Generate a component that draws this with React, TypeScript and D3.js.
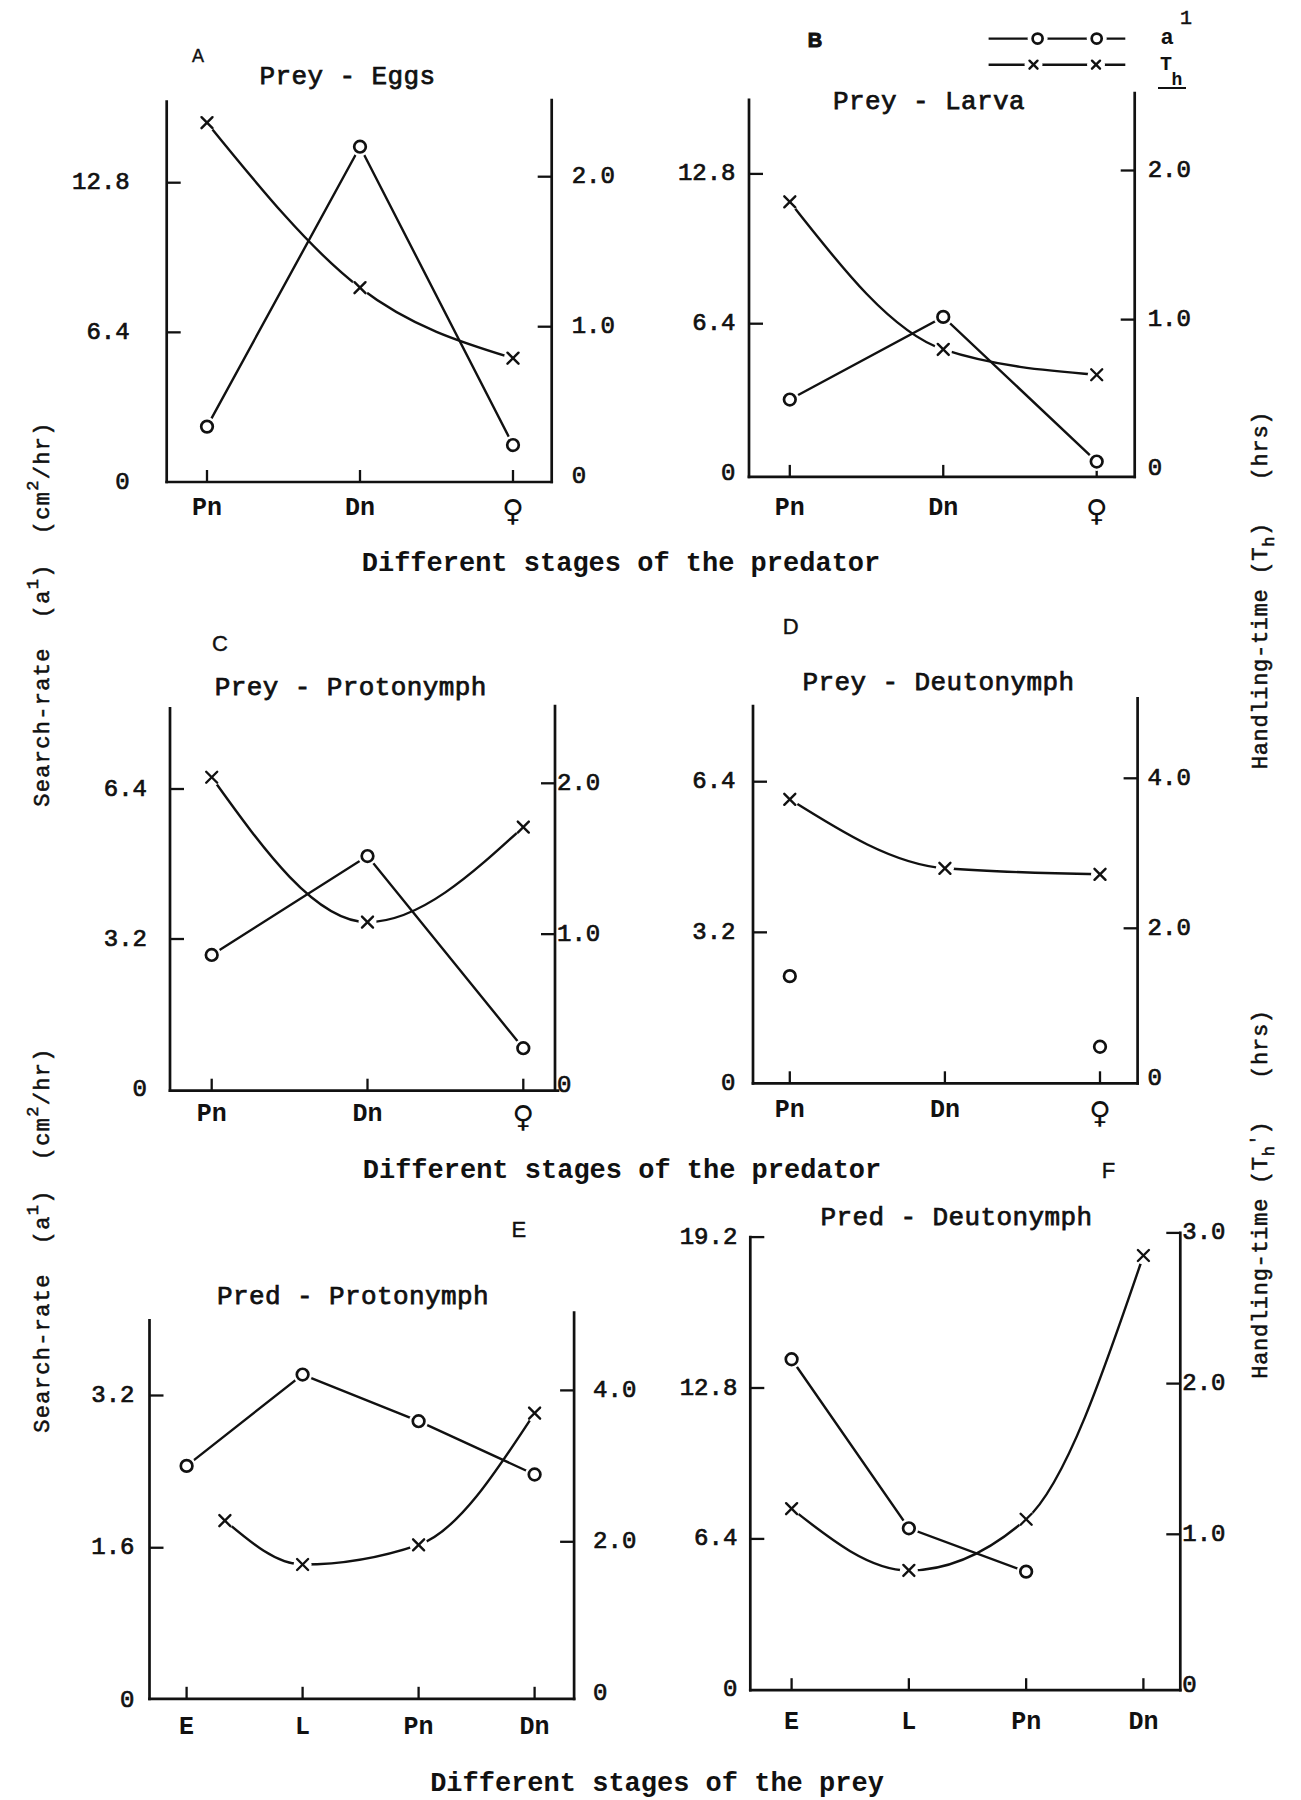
import React from 'react';
import * as d3 from 'd3';

// ---------- data ----------
const predatorStages = ['Pn', 'Dn', '\u2640'];
const preyStages = ['E', 'L', 'Pn', 'Dn'];

// search rate a' (cm2/hr) on the left axis, handling time Th (hrs) on the right axis
const searchA = [2.37, 14.34, 1.58];
const handlingA = [2.36, 1.26, 0.79];
const searchB = [3.16, 6.69, 0.51];
const handlingB = [1.79, 0.8, 0.63];
const searchC = [2.86, 4.97, 0.87];
const handlingC = [2.04, 1.08, 1.71];
const searchD = [2.27, null, 0.77];
const handlingD = [3.72, 2.8, 2.72];
const searchE = [2.46, 3.42, 2.93, 2.37];
const handlingE = [2.28, 1.7, 1.96, 3.7];
const handlingEStagePos = [0.33, 1, 2, 3];
const searchF = [14.02, 6.85, 5.01, null];
const handlingF = [1.17, 0.76, 1.1, 2.85];

const leftTicksA = [6.4, 12.8];
const rightTicksA = [1.0, 2.0];
const leftTicksB = [6.4, 12.8];
const rightTicksB = [1.0, 2.0];
const leftTicksC = [3.2, 6.4];
const rightTicksC = [1.0, 2.0];
const leftTicksD = [3.2, 6.4];
const rightTicksD = [2.0, 4.0];
const leftTicksE = [1.6, 3.2];
const rightTicksE = [2.0, 4.0];
const leftTicksF = [6.4, 12.8, 19.2];
const rightTicksF = [1.0, 2.0, 3.0];

const titles = ['Prey - Eggs', 'Prey - Larva', 'Prey - Protonymph', 'Prey - Deutonymph', 'Pred - Protonymph', 'Pred - Deutonymph'];
const letters = ['A', 'B', 'C', 'D', 'E', 'F'];

// ---------- layout ----------
const W = 1301;
const H = 1800;
const MONO = "'Liberation Mono', 'Courier New', monospace";
const SANS = "'Liberation Sans', Arial, sans-serif";
const INK = '#111';
const fmt = d3.format('.1f');

type PanelCfg = {
  letter: string; letterPos: [number, number]; letterSize: number; letterBold: boolean;
  title: string; titlePos: [number, number];
  cats: string[]; catX: [number, number]; catLabelY: number;
  axL: number; axR: number; axB: number; topL: number; topR: number; bottomEnd: number;
  leftTicks: number[]; leftZero: number; leftTop: number;
  rightTicks: number[]; rightZero: number; rightTop: number;
  leftGap: number; rightGap: number;
  search: (number | null)[]; handling: (number | null)[]; handlingPos?: number[];
  searchLine: boolean;
};

const panels: PanelCfg[] = [
  {
    letter: letters[0], letterPos: [198, 56], letterSize: 18, letterBold: false,
    title: titles[0], titlePos: [347.5, 77],
    cats: predatorStages, catX: [207, 513], catLabelY: 508,
    axL: 166.7, axR: 551.7, axB: 482, topL: 101.7, topR: 100, bottomEnd: 551.7,
    leftTicks: leftTicksA, leftZero: 482, leftTop: 182.7,
    rightTicks: rightTicksA, rightZero: 476.7, rightTop: 176.7,
    leftGap: 37, rightGap: 20,
    search: searchA, handling: handlingA, searchLine: true,
  },
  {
    letter: letters[1], letterPos: [815, 40], letterSize: 20, letterBold: true,
    title: titles[1], titlePos: [929, 102],
    cats: predatorStages, catX: [789.8, 1096.7], catLabelY: 508,
    axL: 749, axR: 1134.7, axB: 476.9, topL: 99.9, topR: 93, bottomEnd: 1134.7,
    leftTicks: leftTicksB, leftZero: 473.5, leftTop: 173.9,
    rightTicks: rightTicksB, rightZero: 468.7, rightTop: 170.5,
    leftGap: 13.5, rightGap: 13,
    search: searchB, handling: handlingB, searchLine: true,
  },
  {
    letter: letters[2], letterPos: [220, 643], letterSize: 22, letterBold: false,
    title: titles[2], titlePos: [350.8, 688],
    cats: predatorStages, catX: [211.7, 523.3], catLabelY: 1114,
    axL: 170, axR: 555, axB: 1090.7, topL: 708.3, topR: 706, bottomEnd: 558,
    leftTicks: leftTicksC, leftZero: 1089, leftTop: 789,
    rightTicks: rightTicksC, rightZero: 1085, rightTop: 783.3,
    leftGap: 23, rightGap: 2,
    search: searchC, handling: handlingC, searchLine: true,
  },
  {
    letter: letters[3], letterPos: [790.6, 626.7], letterSize: 22, letterBold: false,
    title: titles[3], titlePos: [938.6, 683.3],
    cats: predatorStages, catX: [789.8, 1100], catLabelY: 1110,
    axL: 753, axR: 1137.6, axB: 1083.3, topL: 706, topR: 698.3, bottomEnd: 1137.6,
    leftTicks: leftTicksD, leftZero: 1083, leftTop: 781.7,
    rightTicks: rightTicksD, rightZero: 1078.3, rightTop: 778.3,
    leftGap: 17.5, rightGap: 10,
    search: searchD, handling: handlingD, searchLine: false,
  },
  {
    letter: letters[4], letterPos: [518.8, 1229.4], letterSize: 22, letterBold: false,
    title: titles[4], titlePos: [352.9, 1296.6],
    cats: preyStages, catX: [186.6, 534.6], catLabelY: 1727.6,
    axL: 149.5, axR: 574.1, axB: 1698.8, topL: 1320.4, topR: 1312.5, bottomEnd: 574.1,
    leftTicks: leftTicksE, leftZero: 1700, leftTop: 1395.5,
    rightTicks: rightTicksE, rightZero: 1693.2, rightTop: 1390.4,
    leftGap: 15, rightGap: 19,
    search: searchE, handling: handlingE, handlingPos: handlingEStagePos, searchLine: true,
  },
  {
    letter: letters[5], letterPos: [1108.6, 1170.7], letterSize: 22, letterBold: false,
    title: titles[5], titlePos: [956.6, 1218.4],
    cats: preyStages, catX: [791.6, 1143.4], catLabelY: 1722,
    axL: 750.3, axR: 1180.3, axB: 1690.2, topL: 1237.1, topR: 1232.9, bottomEnd: 1180.3,
    leftTicks: leftTicksF, leftZero: 1689.8, leftTop: 1237.1,
    rightTicks: rightTicksF, rightZero: 1685, rightTop: 1232.9,
    leftGap: 13, rightGap: 2,
    search: searchF, handling: handlingF, searchLine: true,
  },
];

const SW = 2.4;

function Cross({ x, y, s = 5.5 }: { x: number; y: number; s?: number }) {
  return (
    <g stroke={INK} strokeWidth={SW} strokeLinecap="round">
      <line x1={x - s} y1={y - s} x2={x + s} y2={y + s} />
      <line x1={x - s} y1={y + s} x2={x + s} y2={y - s} />
    </g>
  );
}

function Ring({ x, y, r = 5.8 }: { x: number; y: number; r?: number }) {
  return <circle cx={x} cy={y} r={r} fill="#fff" stroke={INK} strokeWidth={SW + 0.3} />;
}

function Panel({ p }: { p: PanelCfg }) {
  const x = d3.scaleLinear().domain([0, p.cats.length - 1]).range(p.catX);
  const yL = d3.scaleLinear().domain([0, p.leftTicks[p.leftTicks.length - 1]]).range([p.leftZero, p.leftTop]);
  const yR = d3.scaleLinear().domain([0, p.rightTicks[p.rightTicks.length - 1]]).range([p.rightZero, p.rightTop]);

  const sPts: [number, number][] = [];
  p.search.forEach((v, i) => { if (v != null) sPts.push([x(i), yL(v)]); });
  const hPts: [number, number][] = [];
  p.handling.forEach((v, i) => {
    if (v != null) hPts.push([x(p.handlingPos ? p.handlingPos[i] : i), yR(v)]);
  });

  const straight = d3.line<[number, number]>().curve(d3.curveLinear);
  const smooth = d3.line<[number, number]>().curve(d3.curveMonotoneX);

  return (
    <g>
      {/* frame */}
      <g stroke={INK} strokeWidth={2.7} fill="none" strokeLinecap="square">
        <line x1={p.axL} y1={p.topL} x2={p.axL} y2={p.axB} />
        <line x1={p.axR} y1={p.topR} x2={p.axR} y2={p.axB} />
        <line x1={p.axL} y1={p.axB} x2={p.bottomEnd} y2={p.axB} />
      </g>
      {/* ticks */}
      <g stroke={INK} strokeWidth={2.3}>
        {p.leftTicks.map((t) => (
          <line key={'lt' + t} x1={p.axL} x2={p.axL + 14} y1={yL(t)} y2={yL(t)} />
        ))}
        {p.rightTicks.map((t) => (
          <line key={'rt' + t} x1={p.axR - 14} x2={p.axR} y1={yR(t)} y2={yR(t)} />
        ))}
        {p.cats.map((c, i) => (
          <line key={'ct' + i} x1={x(i)} x2={x(i)} y1={p.axB} y2={p.axB - 12} />
        ))}
      </g>
      {/* tick labels */}
      <g fontFamily={MONO} fontSize={24} fill={INK} stroke={INK} strokeWidth={0.7}>
        {[0, ...p.leftTicks].map((t) => (
          <text key={'ll' + t} x={p.axL - p.leftGap} y={yL(t)} textAnchor="end" dominantBaseline="central">
            {t === 0 ? '0' : fmt(t)}
          </text>
        ))}
        {[0, ...p.rightTicks].map((t) => (
          <text key={'rl' + t} x={p.axR + p.rightGap} y={yR(t)} textAnchor="start" dominantBaseline="central">
            {t === 0 ? '0' : fmt(t)}
          </text>
        ))}
      </g>
      {/* category labels */}
      <g fontFamily={MONO} fontSize={25} fontWeight="bold" fill={INK}>
        {p.cats.map((c, i) => (
          c === '\u2640' ? (
            <text key={'cl' + i} x={x(i)} y={p.catLabelY + 2} textAnchor="middle" dominantBaseline="central"
              fontFamily="'DejaVu Sans', sans-serif" fontSize={30} fontWeight="bold">{c}</text>
          ) : (
            <text key={'cl' + i} x={x(i)} y={p.catLabelY} textAnchor="middle" dominantBaseline="central">{c}</text>
          )
        ))}
      </g>
      {/* title and letter */}
      <text x={p.titlePos[0]} y={p.titlePos[1]} textAnchor="middle" dominantBaseline="central"
        fontFamily={MONO} fontSize={26} letterSpacing={0.4} fill={INK} stroke={INK} strokeWidth={0.75}>{p.title}</text>
      <text x={p.letterPos[0]} y={p.letterPos[1]} textAnchor="middle" dominantBaseline="central"
        fontFamily={SANS} fontSize={p.letterSize} fontWeight={p.letterBold ? 'bold' : 'normal'} fill={INK}
        stroke={INK} strokeWidth={p.letterBold ? 1 : 0.4}>{p.letter}</text>

      {/* lines */}
      <g fill="none" stroke={INK} strokeWidth={SW}>
        {p.searchLine && sPts.length > 1 && <path d={straight(sPts) || ''} />}
        {hPts.length > 1 && <path d={smooth(hPts) || ''} />}
      </g>
      {/* halos that open small gaps where a line meets its marker */}
      <g fill="#fff">
        {sPts.map((pt, i) => <circle key={'hs' + i} cx={pt[0]} cy={pt[1]} r={9.5} />)}
        {hPts.map((pt, i) => <circle key={'hh' + i} cx={pt[0]} cy={pt[1]} r={9} />)}
      </g>
      {sPts.map((pt, i) => <Ring key={'s' + i} x={pt[0]} y={pt[1]} />)}
      {hPts.map((pt, i) => <Cross key={'h' + i} x={pt[0]} y={pt[1]} />)}
    </g>
  );
}

function Legend() {
  const y1 = 38.6;
  const y2 = 64.7;
  const x0 = 988.6;
  const x1 = 1125.3;
  const m1 = [1037.6, 1096.7];
  const m2 = [1033.5, 1096];
  return (
    <g>
      <g stroke={INK} strokeWidth={2.4}>
        <line x1={x0} x2={x1} y1={y1} y2={y1} />
        <line x1={x0} x2={x1} y1={y2} y2={y2} />
      </g>
      <g fill="#fff">
        {m1.map((m) => <circle key={'a' + m} cx={m} cy={y1} r={10} />)}
        {m2.map((m) => <circle key={'b' + m} cx={m} cy={y2} r={9} />)}
      </g>
      {m1.map((m) => <Ring key={'r' + m} x={m} y={y1} r={5} />)}
      {m2.map((m) => <Cross key={'c' + m} x={m} y={y2} s={4} />)}
      <text x={1167} y={44} textAnchor="middle" fontFamily={MONO} fontSize={22} fontWeight="bold" fill={INK}>a</text>
      <text x={1186} y={24} textAnchor="middle" fontFamily={MONO} fontSize={20} fill={INK} stroke={INK} strokeWidth={0.5}>1</text>
      <text x={1166} y={70} textAnchor="middle" fontFamily={MONO} fontSize={20} fontWeight="bold" fill={INK}>T</text>
      <text x={1177} y={85} textAnchor="middle" fontFamily={MONO} fontSize={18} fontWeight="bold" fill={INK}>h</text>
      <line x1={1158} x2={1186} y1={88} y2={88} stroke={INK} strokeWidth={2} />
    </g>
  );
}

function SearchLabel({ cx, cy }: { cx: number; cy: number }) {
  return (
    <text transform={`translate(${cx},${cy}) rotate(-90)`} textAnchor="middle" xmlSpace="preserve"
      style={{ whiteSpace: 'pre' }} fontFamily={MONO} fontSize={22} letterSpacing={1.3} fill={INK} stroke={INK} strokeWidth={0.55}>
      <tspan>{'Search-rate  (a'}</tspan>
      <tspan dy={-11} fontSize={17}>1</tspan>
      <tspan dy={11}>{')  (cm'}</tspan>
      <tspan dy={-11} fontSize={17}>2</tspan>
      <tspan dy={11}>{'/hr)'}</tspan>
    </text>
  );
}

function HandlingLabel({ cx, cy, prime }: { cx: number; cy: number; prime: boolean }) {
  return (
    <text transform={`translate(${cx},${cy}) rotate(-90)`} textAnchor="middle" xmlSpace="preserve"
      style={{ whiteSpace: 'pre' }} fontFamily={MONO} fontSize={22} letterSpacing={0.7} fill={INK} stroke={INK} strokeWidth={0.55}>
      <tspan>{'Handling-time (T'}</tspan>
      <tspan dy={7} fontSize={17}>h</tspan>
      {prime ? <tspan dy={-12} fontSize={17}>{"'"}</tspan> : null}
      <tspan dy={prime ? 5 : -7}>{')   (hrs)'}</tspan>
    </text>
  );
}

export default function App() {
  return (
    <svg width={W} height={H} viewBox={`0 0 ${W} ${H}`}
      style={{ position: 'absolute', left: 0, top: 0, background: '#fff' }}>
      <rect x={0} y={0} width={W} height={H} fill="#fff" />
      {panels.map((p) => <Panel key={p.letter} p={p} />)}
      <Legend />
      <SearchLabel cx={49} cy={614} />
      <SearchLabel cx={49} cy={1240} />
      <HandlingLabel cx={1267} cy={590} prime={false} />
      <HandlingLabel cx={1267} cy={1194} prime={true} />
      <g fontFamily={MONO} fontSize={27} fontWeight="bold" fill={INK} textAnchor="middle">
        <text x={621} y={571}>Different stages of the predator</text>
        <text x={622} y={1178}>Different stages of the predator</text>
        <text x={657} y={1791}>Different stages of the prey</text>
      </g>
    </svg>
  );
}
